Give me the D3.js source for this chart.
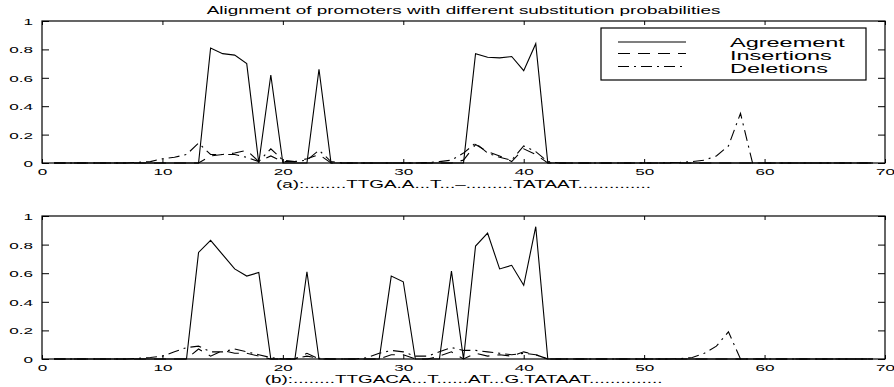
<!DOCTYPE html>
<html>
<head>
<meta charset="utf-8">
<script src="https://cdn.jsdelivr.net/npm/d3@7"></script>
<style>
  html, body { margin: 0; padding: 0; background: #fff; }
  svg { display: block; }
  text { font-family: "Liberation Sans", Arial, Helvetica, sans-serif; fill: #000; }
</style>
</head>
<body>
<svg id="chart" width="894" height="387"></svg>
<script>
// ---------- DATA (positions 1..69) ----------
const positions = [
  1,2,3,4,5,6,7,8,9,10,11,12,13,14,15,16,17,18,19,20,
  21,22,23,24,25,26,27,28,29,30,31,32,33,34,35,36,37,38,39,40,
  41,42,43,44,45,46,47,48,49,50,51,52,53,54,55,56,57,58,59,60,
  61,62,63,64,65,66,67,68,69
];

const agreementA = [
  0,0,0,0,0,0,0,0,0,0,
  0,0,0,.81,.77,.76,.70,0,.62,0,
  0,0,.66,0,0,0,0,0,0,0,
  0,0,0,0,0,.77,.745,.74,.75,.65,
  .84,0,0,0,0,0,0,0,0,0,
  0,0,0,0,0,0,0,0,0,0,
  0,0,0,0,0,0,0,0,0
];
const insertionsA = [
  0,0,0,0,0,0,0,0,0,0,
  0,0,0,.05,.06,.07,.09,.01,.05,.01,
  .01,.03,.06,0,0,0,0,0,0,0,
  0,0,0,0,.02,.13,.08,.05,.01,.10,
  .06,0,0,0,0,0,0,0,0,0,
  0,0,0,0,0,0,0,0,0,0,
  0,0,0,0,0,0,0,0,0
];
const deletionsA = [
  0,0,0,0,0,0,0,.005,.01,.03,
  .04,.06,.14,.06,.06,.06,.04,.01,.10,.02,
  .01,.02,.09,.01,0,0,0,0,0,0,
  0,.003,.01,.02,.07,.14,.07,.04,.02,.12,
  .08,.01,0,0,0,0,0,0,0,0,
  0,.003,.005,.01,.02,.05,.12,.35,0,0,
  0,0,0,0,0,0,0,0,0
];

const agreementB = [
  0,0,0,0,0,0,0,0,0,0,
  0,0,.745,.83,.73,.63,.58,.605,0,0,
  0,.61,0,0,0,0,0,0,.58,.54,
  0,0,0,.615,0,.79,.88,.63,.655,.515,
  .925,0,0,0,0,0,0,0,0,0,
  0,0,0,0,0,0,0,0,0,0,
  0,0,0,0,0,0,0,0,0
];
const insertionsB = [
  0,0,0,0,0,0,0,0,0,0,
  0,0,.07,.02,.06,.04,.04,.02,0,0,
  0,.04,0,0,0,0,0,0,.03,.03,
  0,0,.02,.05,0,.04,.02,.03,.02,.05,
  .03,0,0,0,0,0,0,0,0,0,
  0,0,0,0,0,0,0,0,0,0,
  0,0,0,0,0,0,0,0,0
];
const deletionsB = [
  0,0,0,0,0,0,0,.005,.01,.02,
  .05,.08,.09,.05,.05,.07,.05,.03,.01,0,
  .003,.02,.005,0,0,0,.01,.04,.06,.05,
  .02,.02,.05,.08,.06,.06,.05,.04,.03,.04,
  .03,0,0,0,0,0,0,0,0,0,
  0,0,.003,.01,.04,.09,.19,0,0,0,
  0,0,0,0,0,0,0,0,0
];

const xTicks = [0,10,20,30,40,50,60,70];
const xTickLabels = ["0","10","20","30","40","50","60","70"];
const yTicks = [0,0.2,0.4,0.6,0.8,1];
const yTickLabels = ["0","0.2","0.4","0.6","0.8","1"];

const titleText = "Alignment of promoters with different substitution probabilities";
const captionA = "(a):........TTGA.A...T...\u2013.........TATAAT..............";
const captionB = "(b):........TTGACA...T......AT...G.TATAAT..............";
const seriesNames = ["Agreement","Insertions","Deletions"];
const seriesDash = [null, "12,8", "11,5,2,5"];

// ---------- LAYOUT ----------
const SX = 1.8;  // horizontal stretch of text as in the reference
const svg = d3.select("#chart");
const left = 42, right = 885;
const panels = [
  {top: 21, bottom: 163, data: [agreementA, insertionsA, deletionsA], caption: captionA, capY: 188, legend: true},
  {top: 216, bottom: 359, data: [agreementB, insertionsB, deletionsB], caption: captionB, capY: 383, legend: false}
];

function sText(g, x, y, str, size, anchor, sx) {
  return g.append("text")
    .attr("transform", `translate(${x},${y}) scale(${sx || SX},1)`)
    .attr("text-anchor", anchor || "start")
    .style("font-size", size + "px")
    .text(str);
}

const x = d3.scaleLinear().domain([0, 70]).range([left, right]);

sText(svg, (left + right) / 2, 13.5, titleText, 10.5, "middle");

panels.forEach(p => {
  const y = d3.scaleLinear().domain([0, 1]).range([p.bottom, p.top]);
  const g = svg.append("g");

  // axes with inward ticks
  const axB = d3.axisBottom(x).tickValues(xTicks).tickSizeInner(-4).tickSizeOuter(0)
      .tickFormat((d, i) => xTickLabels[i]).tickPadding(4);
  const axT = d3.axisTop(x).tickValues(xTicks).tickSizeInner(-4).tickSizeOuter(0).tickFormat("");
  const axL = d3.axisLeft(y).tickValues(yTicks).tickSizeInner(-7).tickSizeOuter(0)
      .tickFormat((d, i) => yTickLabels[i]);
  const axR = d3.axisRight(y).tickValues(yTicks).tickSizeInner(-7).tickSizeOuter(0).tickFormat("");

  const gB = g.append("g").attr("transform", `translate(0,${p.bottom})`).call(axB);
  const gT = g.append("g").attr("transform", `translate(0,${p.top})`).call(axT);
  const gL = g.append("g").attr("transform", `translate(${left},0)`).call(axL);
  const gR = g.append("g").attr("transform", `translate(${right},0)`).call(axR);
  [gB, gT, gL, gR].forEach(a => {
    a.select(".domain").remove();
    a.selectAll(".tick line").attr("stroke", "#000").attr("stroke-width", 1);
  });
  gB.selectAll(".tick text")
    .attr("y", 0).attr("dy", 0)
    .attr("transform", `translate(0,12) scale(${SX},1)`)
    .style("font-size", "9.5px").attr("font-family", null).attr("font-size", null);
  gL.selectAll(".tick text")
    .attr("x", 0).attr("dy", 0)
    .attr("transform", `translate(-9,3.5) scale(${SX},1)`)
    .style("font-size", "9.5px").attr("font-family", null).attr("font-size", null);

  // series
  p.data.forEach((vals, si) => {
    const line = d3.line().x((d, i) => x(positions[i])).y(d => y(d));
    g.append("path")
      .datum(vals)
      .attr("d", line)
      .attr("fill", "none")
      .attr("stroke", "#000")
      .attr("stroke-width", 1.1)
      .attr("stroke-dasharray", seriesDash[si]);
  });

  // box
  g.append("rect")
    .attr("x", left).attr("y", p.top)
    .attr("width", right - left).attr("height", p.bottom - p.top)
    .attr("fill", "none").attr("stroke", "#000").attr("stroke-width", 1.2);

  // caption (xlabel)
  sText(svg, (left + right) / 2, p.capY, p.caption, 10.5, "middle");

  if (p.legend) {
    const lg = svg.append("g");
    lg.append("rect").attr("x", 601).attr("y", 28).attr("width", 265).attr("height", 52)
      .attr("fill", "#fff").attr("stroke", "#000").attr("stroke-width", 1.2);
    const lineY = [42, 53.5, 66.5];
    const textY = [46.5, 59.5, 72.5];
    seriesNames.forEach((name, i) => {
      lg.append("line").attr("x1", 618).attr("x2", 686)
        .attr("y1", lineY[i]).attr("y2", lineY[i])
        .attr("stroke", "#000").attr("stroke-width", 1.1)
        .attr("stroke-dasharray", seriesDash[i]);
      sText(lg, 730, textY[i], name, 12.5, "start", 1.88);
    });
  }
});
</script>
</body>
</html>
